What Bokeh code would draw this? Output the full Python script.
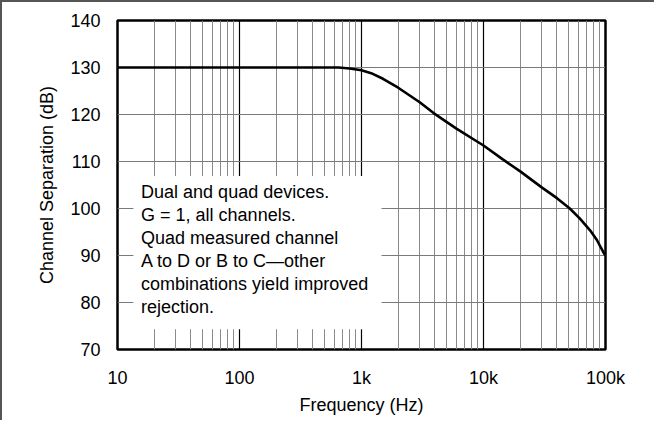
from bokeh.plotting import figure
from bokeh.models import Range1d, FixedTicker, BoxAnnotation, Label
from bokeh.embed import file_html
from bokeh.resources import INLINE

# ---- data ----
freq_hz = [10, 100, 500, 650, 800, 1000, 1200, 1500, 2000, 3000, 3900, 6000,
           10000, 14300, 20000, 30000, 40000, 51000, 62000, 75000, 85000, 92000, 97000, 100000]
separation_db = [130, 130, 130, 130, 129.8, 129.4, 128.8, 127.6, 125.7, 122.6, 120.3, 117.0,
                 113.4, 110.5, 107.9, 104.5, 102.2, 100, 97.8, 95.3, 93.3, 91.6, 90.5, 90]

x_ticks = [10, 100, 1000, 10000, 100000]
x_tick_labels = ["10", "100", "1k", "10k", "100k"]
x_minor = [m * d for d in [10, 100, 1000, 10000] for m in range(2, 10)]
y_ticks = [70, 80, 90, 100, 110, 120, 130, 140]

note_lines = ["Dual and quad devices.",
              "G = 1, all channels.",
              "Quad measured channel",
              "A to D or B to C\u2014other",
              "combinations yield improved",
              "rejection."]

FONT = "Liberation Sans"

p = figure(width=654, height=420, x_axis_type="log",
           x_range=Range1d(10, 100000), y_range=Range1d(70, 140),
           output_backend="svg", toolbar_location=None,
           min_border_left=115, min_border_right=51,
           min_border_top=18, min_border_bottom=73)
p.styles = {"border-top": "2px solid #555555", "border-left": "2px solid #555555"}

p.xaxis.ticker = FixedTicker(ticks=x_ticks, minor_ticks=x_minor)
p.xaxis.major_label_overrides = {t: l for t, l in zip(x_ticks, x_tick_labels)}
p.yaxis.ticker = FixedTicker(ticks=y_ticks)

for ax in (p.xaxis[0], p.yaxis[0]):
    ax.axis_line_color = None
    ax.major_tick_line_color = None
    ax.minor_tick_line_color = None
    ax.major_label_text_font = FONT
    ax.major_label_text_font_size = "18px"
    ax.major_label_text_color = "black"
    ax.axis_label_text_font = FONT
    ax.axis_label_text_font_size = "18px"
    ax.axis_label_text_font_style = "normal"
    ax.axis_label_text_color = "black"

p.xaxis.axis_label = "Frequency (Hz)"
p.yaxis.axis_label = "Channel Separation (dB)"
p.xaxis.major_label_standoff = 12
p.xaxis.axis_label_standoff = 4
p.yaxis.major_label_standoff = 11
p.yaxis.axis_label_standoff = 10

p.xgrid.grid_line_color = "black"
p.xgrid.grid_line_width = 1.2
p.xgrid.minor_grid_line_color = "#8a8a8a"
p.xgrid.minor_grid_line_width = 1
p.ygrid.grid_line_color = "#7a7a7a"
p.ygrid.grid_line_width = 1

p.outline_line_color = "black"
p.outline_line_width = 2.5
p.background_fill_color = "white"
p.border_fill_color = "white"

p.line(freq_hz, separation_db, line_color="black", line_width=2.6)

# note box (hides grid behind the text)
p.add_layout(BoxAnnotation(left=13.5, right=1459, bottom=74.3, top=106.9,
                           fill_color="white", fill_alpha=1.0, line_color=None))
for i, txt in enumerate(note_lines):
    p.add_layout(Label(x=15.6, y=103.5 - i * 4.89, text=txt,
                       text_font=FONT, text_font_size="18px",
                       text_baseline="middle", text_align="left",
                       text_color="black"))

open("out.html", "w").write(file_html(p, INLINE))
